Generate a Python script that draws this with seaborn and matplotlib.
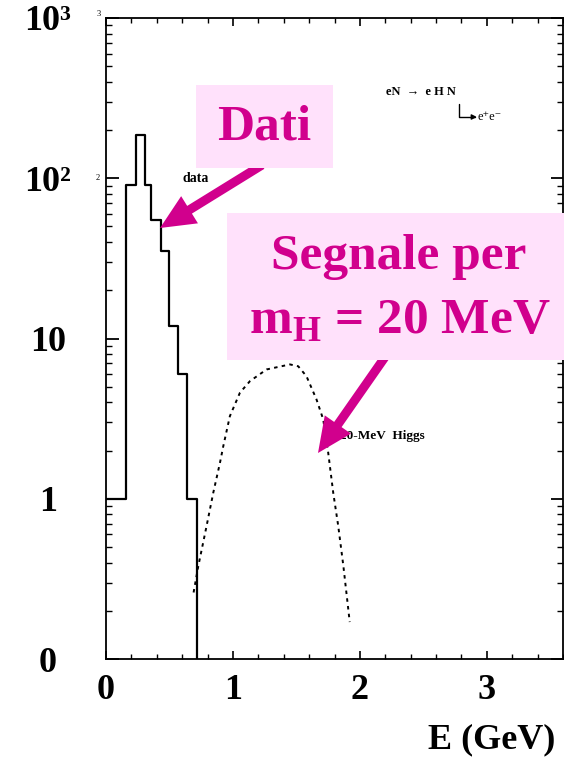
import numpy as np
import pandas as pd
import matplotlib
matplotlib.use("Agg")
import matplotlib.pyplot as plt
import seaborn as sns
from matplotlib.patches import Rectangle, FancyArrowPatch
from matplotlib.ticker import MultipleLocator, LogLocator, NullFormatter

# ---------------- data ----------------
bin_edges = [0.0, 0.157, 0.24, 0.31, 0.354, 0.43, 0.50, 0.565, 0.635, 0.72]
data_counts = [1, 91, 185, 91, 55, 35, 12, 6, 1]

signal_E = [0.69, 0.727, 0.793, 0.845, 0.898, 0.924, 0.976, 1.055, 1.134, 1.265,
            1.449, 1.514, 1.579, 1.658, 1.711, 1.75, 1.79, 1.829, 1.87, 1.92]
signal_val = [0.26, 0.38, 0.68, 1.09, 1.68, 2.13, 3.28, 4.59, 5.42, 6.41,
              6.89, 6.71, 5.82, 4.17, 3.13, 1.95, 1.09, 0.68, 0.38, 0.17]

y_ticks = [0.1, 1, 10, 100, 1000]
y_ticklabels = ["0", "1", "10", "10²", "10³"]
x_ticks = [0, 1, 2, 3]
x_ticklabels = ["0", "1", "2", "3"]

MAGENTA = "#D1008D"
PINK = "#FFE1FB"

# ---------------- figure ----------------
sns.set_style("ticks")
plt.rcParams["font.family"] = ["Liberation Serif", "DejaVu Serif"]
plt.rcParams["text.color"] = "black"
plt.rcParams["xtick.color"] = "black"
plt.rcParams["ytick.color"] = "black"
plt.rcParams["axes.edgecolor"] = "black"

W, H = 564, 757
fig = plt.figure(figsize=(W / 100, H / 100), dpi=100)
ax = fig.add_axes([106 / W, 1 - 659 / H, 457 / W, 641 / H])


def fp(x, y):
    """pixel (from top-left) -> figure fraction"""
    return (x / W, 1 - y / H)


# histogram as step outline
step_x = list(np.repeat(bin_edges, 2)[1:-1]) + [bin_edges[-1]]
step_y = list(np.repeat(data_counts, 2)) + [0.1]
hist_df = pd.DataFrame({"E": step_x, "N": step_y})
sns.lineplot(data=hist_df, x="E", y="N", sort=False, estimator=None, errorbar=None,
             color="black", lw=1.6, ax=ax)

sig_df = pd.DataFrame({"E": signal_E, "N": signal_val})
sns.lineplot(data=sig_df, x="E", y="N", sort=False, estimator=None, errorbar=None,
             color="black", lw=1.4, ax=ax, linestyle=(0, (1.8, 2.2)))

ax.set_yscale("log")
ax.set_ylim(0.1, 1000)
ax.set_xlim(0, 3.6)
ax.set_xlabel("")
ax.set_ylabel("")

for s in ax.spines.values():
    s.set_linewidth(1.3)
    s.set_color("black")

ax.set_yticks(y_ticks)
ax.set_yticklabels(y_ticklabels, fontsize=26, fontweight="bold", color="black")
ax.yaxis.set_minor_locator(LogLocator(base=10, subs=np.arange(2, 10)))
ax.yaxis.set_minor_formatter(NullFormatter())
for t in ax.get_yticklabels():
    t.set_ha("center")
ax.set_xticks(x_ticks)
ax.set_xticklabels(x_ticklabels, fontsize=26, fontweight="bold", color="black")
ax.xaxis.set_minor_locator(MultipleLocator(0.2))

ax.tick_params(axis="both", which="both", direction="in", top=True, right=True,
               color="black")
ax.tick_params(axis="y", which="major", length=9, width=1.3, pad=42)
ax.tick_params(axis="y", which="minor", length=4, width=1.0)
ax.tick_params(axis="x", which="major", length=6, width=1.2, pad=11)
ax.tick_params(axis="x", which="minor", length=3.5, width=1.0)

# small remnant annotations of original plot
ax.text(0.6, 100, "data", fontsize=10, fontweight="bold", va="center", ha="left")
ax.text(1.84, 2.45, "20-MeV  Higgs", fontsize=9.5, fontweight="bold", va="center", ha="left")
fig.text(*fp(386, 92), "eN  →  e H N", fontsize=9, fontweight="bold", va="center", ha="left")
fig.add_artist(FancyArrowPatch(fp(459, 104), fp(477, 117), transform=fig.transFigure,
                               connectionstyle="angle,angleA=90,angleB=0,rad=0",
                               arrowstyle="-|>,head_length=3,head_width=1.5",
                               mutation_scale=1, color="black", lw=1.0,
                               shrinkA=0, shrinkB=0))
fig.text(*fp(478, 117), "e⁺e⁻", fontsize=9, va="center", ha="left")
fig.text(*fp(99, 14), "3", fontsize=6, va="center", ha="center")
fig.text(*fp(98, 178), "2", fontsize=6, va="center", ha="center")

# arrows (drawn beneath boxes)
arrow_style = "simple,head_length=2.5,head_width=2.3,tail_width=0.65"
for (x0, y0), (x1, y1) in [((262, 165), (160, 228)), ((385, 357), (318, 453))]:
    fig.add_artist(FancyArrowPatch(fp(x0, y0), fp(x1, y1), transform=fig.transFigure,
                                   arrowstyle=arrow_style, mutation_scale=10,
                                   color=MAGENTA, lw=0, zorder=3,
                                   shrinkA=0, shrinkB=0))

# pink label boxes
fig.add_artist(Rectangle(fp(196, 168), 137 / W, 83 / H, transform=fig.transFigure,
                         facecolor=PINK, edgecolor="none", zorder=4))
fig.add_artist(Rectangle(fp(227, 360), 337 / W, 147 / H, transform=fig.transFigure,
                         facecolor=PINK, edgecolor="none", zorder=4))

fig.text(*fp(264, 128), "Dati", fontsize=37, fontweight="bold", color=MAGENTA,
         ha="center", va="center", zorder=5)
fig.text(*fp(399, 257), "Segnale per", fontsize=37, fontweight="bold", color=MAGENTA,
         ha="center", va="center", zorder=5)
fig.text(*fp(400, 322), r"m$_{\mathregular{H}}$ = 20 MeV", fontsize=37, fontweight="bold",
         color=MAGENTA, ha="center", va="center", zorder=5)

fig.text(*fp(555, 740), "E (GeV)", fontsize=26, fontweight="bold", ha="right", va="center")

fig.savefig("out.png", dpi=100)
